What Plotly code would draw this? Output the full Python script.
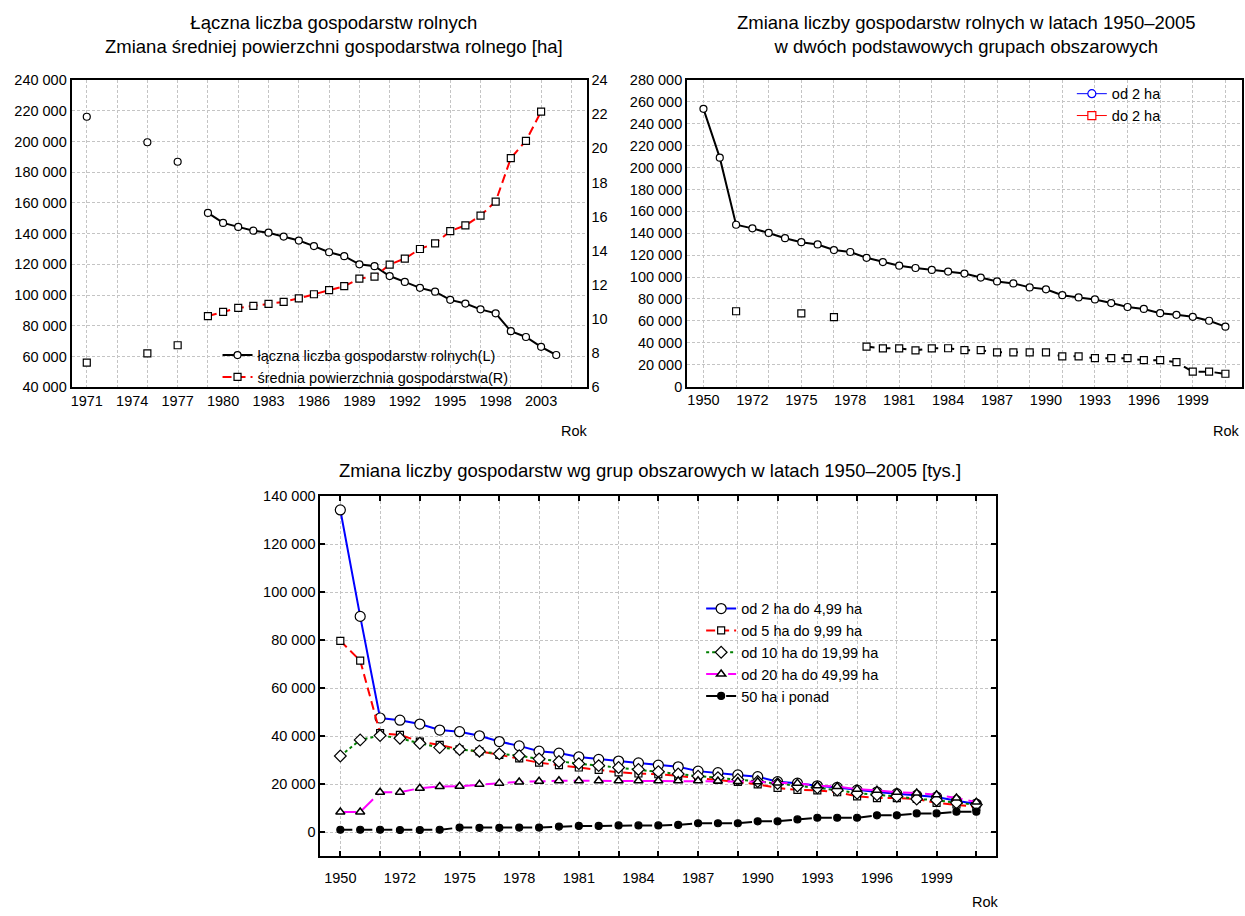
import plotly.graph_objects as go

FONT = "Liberation Sans, Arial, sans-serif"

# ---------------- Chart 1 data ----------------
c1_case = list(range(32))
c1_tick_case = [0, 3, 6, 9, 12, 15, 18, 21, 24, 27, 30]
c1_tick_text = ["1971", "1974", "1977", "1980", "1983", "1986", "1989",
                "1992", "1995", "1998", "2003"]
c1_total = [216100, None, None, None, 199500, None, 186800, None,
            153500, 147000, 144400, 141900, 140600, 138100, 135500, 131900,
            127900, 125300, 120000, 118800, 112400, 108600, 104700, 102200,
            96900, 94500, 90700, 88100, 76500, 72700, 66300, 61000]
c1_area = [7.44, None, None, None, 7.98, None, 8.46, None,
           10.17, 10.42, 10.65, 10.77, 10.88, 11.0, 11.21, 11.45,
           11.69, 11.92, 12.37, 12.48, 13.19, 13.54, 14.1, 14.43,
           15.15, 15.48, 16.06, 16.88, 19.42, 20.44, 22.15, None]

# ---------------- Chart 2 data ----------------
c2_case = list(range(33))
c2_tick_case = [0, 3, 6, 9, 12, 15, 18, 21, 24, 27, 30]
c2_tick_text = ["1950", "1972", "1975", "1978", "1981", "1984", "1987",
                "1990", "1993", "1996", "1999"]
c2_from2 = [253700, 209100, 147800, 144500, 140300, 135500, 131900, 129800,
            124700, 122900, 117600, 113700, 110400, 108300, 106500, 105000,
            103200, 99600, 96000, 94200, 90600, 88800, 83500, 81400,
            79600, 76300, 72700, 70900, 67000, 65500, 63700, 60100, 54700]
c2_upto2 = [None, None, 68800, None, None, None, 66800, None,
            63500, None, 36500, 34900, 34900, 33100, 34900, 35000,
            33200, 33200, 31300, 31300, 31300, 31300, 27600, 27600,
            25900, 25900, 25900, 24100, 24100, 22300, 13600, 13600, 11700]

# ---------------- Chart 3 data ----------------
c3_case = list(range(33))
c3_tick_case = [0, 3, 6, 9, 12, 15, 18, 21, 24, 27, 30]
c3_tick_text = ["1950", "1972", "1975", "1978", "1981", "1984", "1987",
                "1990", "1993", "1996", "1999"]
c3_2_5 = [134200, 89900, 47600, 46700, 45100, 42600, 41900, 40200,
          37800, 36000, 33800, 33000, 31400, 30400, 29700, 28900,
          28000, 27300, 25500, 24850, 23900, 23200, 21100, 20500,
          19400, 18700, 17600, 16800, 16100, 15400, 14700, 13200, 11800]
c3_5_10 = [79700, 71500, 41300, 40600, 37800, 36400, 34600, 33700,
           32300, 30800, 29000, 28000, 27000, 26000, 25000, 24500,
           24200, 23500, 22500, 21800, 21000, 20000, 18500, 17700,
           17500, 16700, 15000, 14300, 14300, 13900, 12300, 11600, 10600]
c3_10_20 = [31800, 38500, 40300, 39200, 37100, 35300, 34500, 33800,
            32700, 31900, 30600, 29500, 28600, 27800, 27000, 26200,
            25300, 24300, 23400, 22800, 22000, 21200, 20300, 19300,
            18600, 17600, 16300, 15600, 15000, 13900, 13400, 12300, 11600]
c3_20_50 = [8500, 8500, 16700, 16700, 18400, 19100, 19200, 20000,
            20500, 21000, 21300, 21500, 21500, 21500, 21500, 21500,
            21500, 21500, 21500, 21400, 21200, 21100, 20600, 20500,
            19400, 19100, 18000, 17500, 16700, 16400, 15700, 14300, 12600]
c3_50 = [1100, 1100, 1100, 1000, 1000, 1100, 2000, 1900,
         1900, 2000, 2000, 2400, 2700, 2700, 2900, 2900,
         2900, 3100, 3800, 3800, 3800, 4600, 4600, 5400,
         6100, 6100, 6100, 7100, 7100, 7900, 7900, 8600, 8600]

W, H = 1245, 916


def px(x):
    return x / W


def py(y):
    return 1 - y / H


GRID = dict(showgrid=True, gridcolor="#c4c4c4", gridwidth=1, griddash="3px,2px")
FRAME = dict(showline=True, linecolor="black", linewidth=2, zeroline=False)
TICKFONT = dict(family=FONT, size=14.5, color="black")

fig = go.Figure()


def mk(symbol, size, fill="white", edge="black", lw=1.2):
    return dict(symbol=symbol, size=size, color=fill, line=dict(color=edge, width=lw))


# ---------------- Chart 1 traces ----------------
fig.add_trace(go.Scatter(
    x=c1_case, y=c1_total, mode="lines+markers", connectgaps=False,
    name="łączna liczba gospodarstw rolnych(L)",
    line=dict(color="black", width=2), marker=mk("circle", 7),
    xaxis="x", yaxis="y", legend="legend"))
fig.add_trace(go.Scatter(
    x=c1_case, y=c1_area, mode="lines+markers", connectgaps=False,
    name="średnia powierzchnia gospodarstwa(R)",
    line=dict(color="red", width=2, dash="9px,5px"), marker=mk("square", 7),
    xaxis="x", yaxis="y2", legend="legend"))
fig.add_trace(go.Scatter(
    x=c1_tick_case, y=[None] * len(c1_tick_case), mode="markers",
    showlegend=False, hoverinfo="skip", xaxis="x2", yaxis="y"))

# ---------------- Chart 2 traces ----------------
fig.add_trace(go.Scatter(
    x=c2_case, y=c2_from2, mode="lines+markers", connectgaps=False,
    name="od 2 ha", showlegend=False,
    line=dict(color="black", width=2), marker=mk("circle", 7),
    xaxis="x3", yaxis="y3"))
fig.add_trace(go.Scatter(
    x=c2_case, y=c2_upto2, mode="lines+markers", connectgaps=False,
    name="do 2 ha", showlegend=False,
    line=dict(color="black", width=2, dash="8px,8px"), marker=mk("square", 7),
    xaxis="x3", yaxis="y3"))
fig.add_trace(go.Scatter(
    x=[None], y=[None], mode="lines+markers", name="od 2 ha",
    line=dict(color="blue", width=1), marker=mk("circle", 8, edge="blue"),
    xaxis="x3", yaxis="y3", legend="legend2"))
fig.add_trace(go.Scatter(
    x=[None], y=[None], mode="lines+markers", name="do 2 ha",
    line=dict(color="red", width=1), marker=mk("square", 8, edge="red"),
    xaxis="x3", yaxis="y3", legend="legend2"))
fig.add_trace(go.Scatter(
    x=c2_tick_case, y=[None] * len(c2_tick_case), mode="markers",
    showlegend=False, hoverinfo="skip", xaxis="x4", yaxis="y3"))

# ---------------- Chart 3 traces ----------------
series3 = [
    ("od 2 ha do 4,99 ha", c3_2_5, dict(color="blue", width=2), mk("circle", 10)),
    ("od 5 ha do 9,99 ha", c3_5_10, dict(color="red", width=2, dash="9px,5px"), mk("square", 7)),
    ("od 10 ha do 19,99 ha", c3_10_20, dict(color="green", width=2, dash="3px,3px"), mk("diamond", 9)),
    ("od 20 ha do 49,99 ha", c3_20_50, dict(color="magenta", width=2, dash="16px,6px"), mk("triangle-up", 8, lw=1.5)),
    ("50 ha i ponad", c3_50, dict(color="black", width=2, dash="12px,8px"), mk("circle", 7, fill="black")),
]
for name, vals, ln, mrk in series3:
    fig.add_trace(go.Scatter(
        x=c3_case, y=vals, mode="lines+markers", name=name,
        line=ln, marker=mrk, xaxis="x5", yaxis="y4", legend="legend3"))
fig.add_trace(go.Scatter(
    x=c3_tick_case, y=[None] * len(c3_tick_case), mode="markers",
    showlegend=False, hoverinfo="skip", xaxis="x6", yaxis="y4"))

grid_ticks = list(range(0, 33, 2))
xr = [-1, 33]

legend_common = dict(bgcolor="rgba(0,0,0,0)", borderwidth=0,
                     font=dict(family=FONT, size=14.5, color="black"),
                     xanchor="left", yanchor="top", tracegroupgap=0)

fig.update_layout(
    width=W, height=H, autosize=False,
    margin=dict(l=0, r=0, t=0, b=0),
    paper_bgcolor="white", plot_bgcolor="white",
    font=dict(family=FONT, size=14.5, color="black"),
    separators=", ",
    hovermode=False,
    # chart 1
    xaxis=dict(domain=[px(70.7), px(586)], anchor="y", range=xr,
               tickmode="array", tickvals=grid_ticks, showticklabels=False,
               ticks="", mirror=True, **GRID, **FRAME),
    xaxis2=dict(overlaying="x", anchor="y", side="bottom", range=xr,
                tickmode="array", tickvals=c1_tick_case, ticktext=c1_tick_text,
                showgrid=False, showline=False, zeroline=False, ticks="",
                ticklabelstandoff=3, tickfont=TICKFONT),
    yaxis=dict(domain=[py(386), py(73.3)], anchor="x", range=[40000, 240000],
               tick0=0, dtick=20000, tickformat=",d", ticks="", mirror=True,
               tickfont=TICKFONT, **GRID, **FRAME),
    yaxis2=dict(overlaying="y", anchor="x", side="right", range=[6, 24],
                tick0=0, dtick=2, ticks="", showgrid=False,
                tickfont=TICKFONT, **FRAME),
    # chart 2
    xaxis3=dict(domain=[px(686.7), px(1241.7)], anchor="y3", range=xr,
                tickmode="array", tickvals=grid_ticks, showticklabels=False,
                ticks="", mirror=True, **GRID, **FRAME),
    xaxis4=dict(overlaying="x3", anchor="y3", side="bottom", range=xr,
                tickmode="array", tickvals=c2_tick_case, ticktext=c2_tick_text,
                showgrid=False, showline=False, zeroline=False, ticks="",
                ticklabelstandoff=3, tickfont=TICKFONT),
    yaxis3=dict(domain=[py(385.3), py(73.3)], anchor="x3", range=[0, 280000],
                tick0=0, dtick=20000, tickformat=",d", ticks="", mirror=True,
                tickfont=TICKFONT, **GRID, **FRAME),
    # chart 3
    xaxis5=dict(domain=[px(319.7), px(996)], anchor="y4", range=xr,
                tickmode="array", tickvals=grid_ticks, showticklabels=False,
                ticks="inside", ticklen=5, tickwidth=2, tickcolor="black",
                mirror="ticks", **GRID, **FRAME),
    xaxis6=dict(overlaying="x5", anchor="y4", side="bottom", range=xr,
                tickmode="array", tickvals=c3_tick_case, ticktext=c3_tick_text,
                showgrid=False, showline=False, zeroline=False, ticks="",
                ticklabelstandoff=11, tickfont=TICKFONT),
    yaxis4=dict(domain=[py(863.5), py(496.7)], anchor="x5", range=[-10000, 140000],
                tick0=0, dtick=20000, tickformat=",d",
                ticks="inside", ticklen=5, tickwidth=2, tickcolor="black",
                mirror="ticks", tickfont=TICKFONT, **GRID, **FRAME),
    legend=dict(x=px(216.7), y=py(337), **legend_common),
    legend2=dict(x=px(1071.7), y=py(71), **legend_common),
    legend3=dict(x=px(700.7), y=py(595), **legend_common),
)

TITLE_FONT = dict(family=FONT, size=18.5, color="black")
annotations = [
    dict(text="Łączna liczba gospodarstw rolnych<br>Zmiana średniej powierzchni gospodarstwa rolnego [ha]",
         x=px(333), y=py(26.5), xref="paper", yref="paper", xanchor="center", yanchor="middle",
         showarrow=False, font=TITLE_FONT, align="center"),
    dict(text="Zmiana liczby gospodarstw rolnych w latach 1950–2005<br>w dwóch podstawowych grupach obszarowych",
         x=px(966), y=py(26.5), xref="paper", yref="paper", xanchor="center", yanchor="middle",
         showarrow=False, font=TITLE_FONT, align="center"),
    dict(text="Zmiana liczby gospodarstw wg grup obszarowych w latach 1950–2005 [tys.]",
         x=px(650), y=py(471), xref="paper", yref="paper", xanchor="center", yanchor="middle",
         showarrow=False, font=TITLE_FONT),
    dict(text="Rok", x=px(589), y=py(431), xref="paper", yref="paper", xanchor="right",
         yanchor="middle", showarrow=False, font=TICKFONT),
    dict(text="Rok", x=px(1242), y=py(431), xref="paper", yref="paper", xanchor="right",
         yanchor="middle", showarrow=False, font=TICKFONT),
    dict(text="Rok", x=px(1001), y=py(910), xref="paper", yref="paper", xanchor="right",
         yanchor="middle", showarrow=False, font=TICKFONT),
]
fig.update_layout(annotations=annotations)

fig.write_html("out.html", config={"displayModeBar": False},
               post_script="document.body.style.margin='0';document.body.style.overflow='hidden';")
